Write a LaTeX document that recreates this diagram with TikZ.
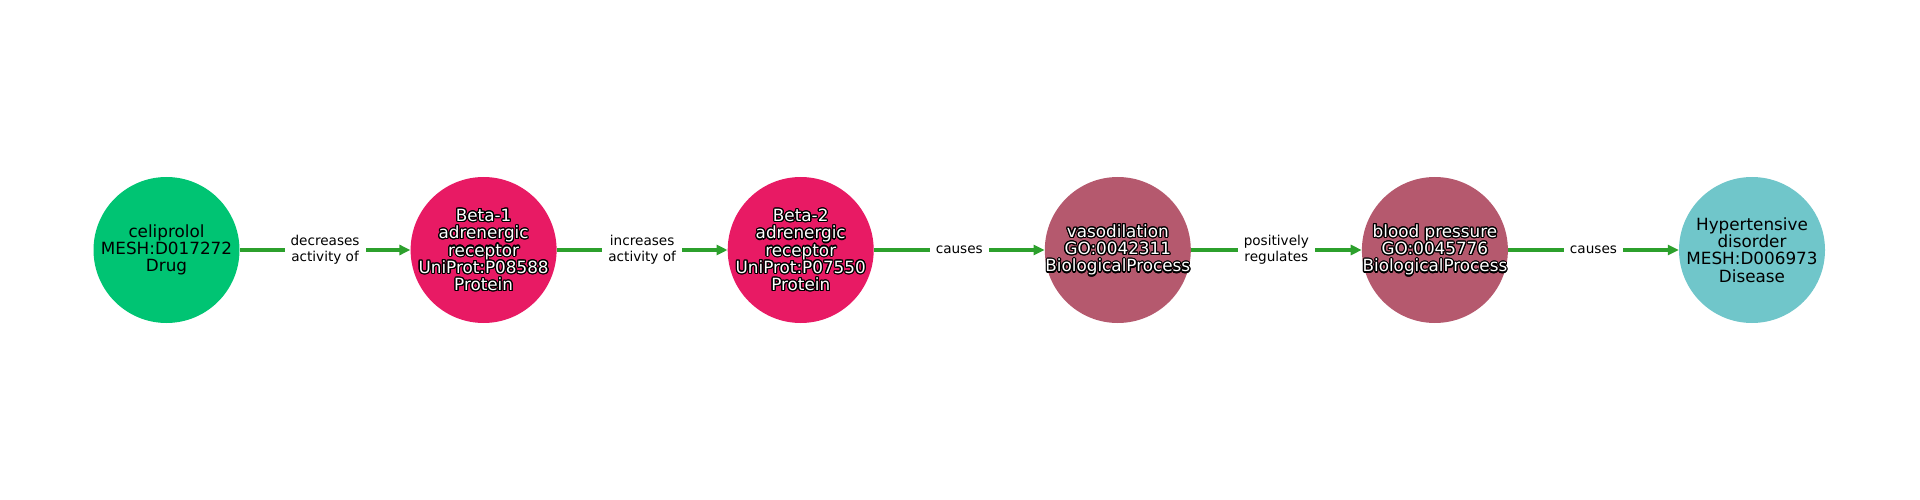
\documentclass[tikz,border=0pt]{standalone}
\usepackage{fontspec}
\setmainfont{DejaVu Sans}
\usetikzlibrary{arrows.meta}
\definecolor{cdrug}{HTML}{00C473}
\definecolor{cprot}{HTML}{E81A64}
\definecolor{cbio}{HTML}{B5596E}
\definecolor{cdis}{HTML}{70C6CA}
\definecolor{cedge}{HTML}{2CA02C}
\tikzset{
  ent/.style={circle, minimum size=146pt, inner sep=0pt, align=center,
    font=\fontsize{16.8}{17.3}\selectfont},
  ltext/.style={inner sep=0pt, align=center, font=\fontsize{16.8}{17.3}\selectfont},
  edge/.style={draw=cedge, line width=3.5pt, -{Triangle[length=11pt,width=10pt]}},
  elabel/.style={fill=white, inner xsep=6pt, inner ysep=3pt, align=center,
    font=\fontsize{13.6}{16}\selectfont, text=black}
}
\newcommand{\outlbl}[2]{%
  \foreach \ang in {0,22.5,...,337.5}{\node[ltext, text=black, shift={(\ang:1.2pt)}] at (#1) {#2};}
  \node[ltext, text=white] at (#1) {#2};}
\begin{document}
\begin{tikzpicture}[x=1pt,y=-1pt]
\useasboundingbox (0,0) rectangle (1920,500);
\node[ent, fill=cdrug] (n1) at (166.5,250) {celiprolol\\MESH:D017272\\Drug};
\node[ent, fill=cprot] (n2) at (483.6,250) {};
\node[ent, fill=cprot] (n3) at (800.7,250) {};
\node[ent, fill=cbio] (n4) at (1117.8,250) {};
\node[ent, fill=cbio] (n5) at (1434.9,250) {};
\node[ent, fill=cdis] (n6) at (1752,250) {Hypertensive\\disorder\\MESH:D006973\\Disease};
\outlbl{n2.center}{Beta-1\\adrenergic\\receptor\\UniProt:P08588\\Protein}
\outlbl{n3.center}{Beta-2\\adrenergic\\receptor\\UniProt:P07550\\Protein}
\outlbl{n4.center}{vasodilation\\GO:0042311\\BiologicalProcess}
\outlbl{n5.center}{blood pressure\\GO:0045776\\BiologicalProcess}
\draw[edge] (n1) -- node[elabel] {decreases\\activity of} (n2);
\draw[edge] (n2) -- node[elabel] {increases\\activity of} (n3);
\draw[edge] (n3) -- node[elabel] {causes} (n4);
\draw[edge] (n4) -- node[elabel] {positively\\regulates} (n5);
\draw[edge] (n5) -- node[elabel] {causes} (n6);
\end{tikzpicture}
\end{document}
